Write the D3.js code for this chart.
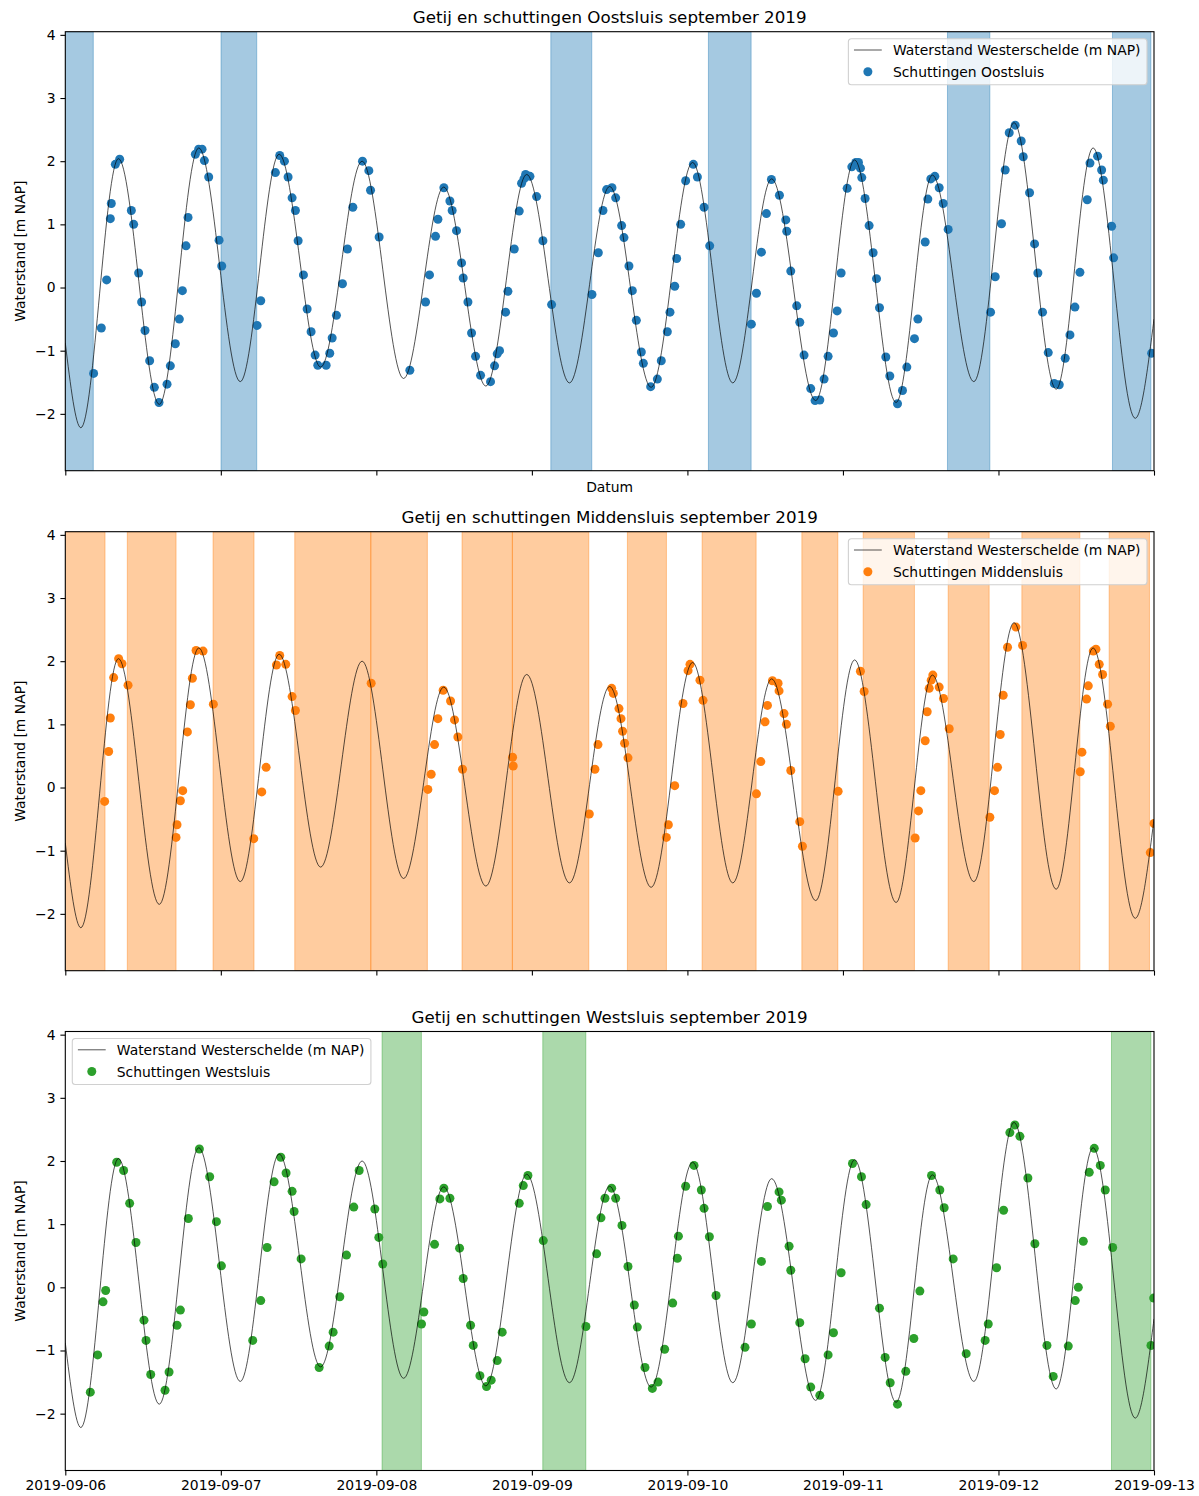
<!DOCTYPE html>
<html>
<head>
<meta charset="utf-8">
<script src="https://cdn.jsdelivr.net/npm/d3@7"></script>
<style>
    body { margin: 0; background: #fff; }
    text { font-family: "DejaVu Sans", sans-serif; fill: #000; }
</style>
</head>
<body>
<svg id="chart" width="1199" height="1496"></svg>
<script>
// tijden in uren sinds 2019-09-06 00:00, waterstand in m NAP
var days = ['2019-09-06','2019-09-07','2019-09-08','2019-09-09','2019-09-10','2019-09-11','2019-09-12','2019-09-13'];
var yTicks = [-2, -1, 0, 1, 2, 3, 4];

// hoog- en laagwaters
var tideExtremes = [[0,-0.88],[2.4,-2.22],[8.2,2.04],[14.5,-1.85],[20.6,2.21],[27.0,-1.49],[33.0,2.11],[39.4,-1.26],
    [45.8,2.0],[52.2,-1.44],[58.4,1.59],[64.9,-1.56],[71.2,1.79],[77.8,-1.51],[84.0,1.60],[90.4,-1.58],[96.8,1.98],
    [103.0,-1.51],[109.0,1.72],[115.8,-1.79],[121.8,2.02],[128.2,-1.82],[133.8,1.78],[140.2,-1.49],[146.4,2.61],
    [152.9,-1.61],[158.6,2.21],[165.1,-2.07],[168,-0.5]];

var oostSpans = [[0,4.32],[24.03,29.54],[74.92,81.24],[99.24,105.83],[136.13,142.67],[161.59,167.52]];
var middenSpans = [[0,6.13],[9.57,17.09],[22.8,29.12],[35.41,47.14],[47.14,55.87],[61.22,68.99],[68.99,80.78],
    [86.74,92.76],[98.27,106.6],[113.66,119.21],[123.12,131.03],[136.24,142.56],[147.61,156.56],[161.08,167.3]];
var westSpans = [[48.88,54.95],[73.68,80.32],[161.44,167.52]];

var oostPoints = [[4.37,-1.36],[5.56,-0.64],[6.38,0.12],[6.95,1.09],[7.10,1.33],[7.72,1.95],[8.39,2.03],[10.19,1.22],
    [10.55,1.0],[11.32,0.23],[11.78,-0.23],[12.3,-0.68],[13.02,-1.16],[13.74,-1.58],[14.46,-1.82],[15.7,-1.53],
    [16.21,-1.24],[16.98,-0.89],[17.6,-0.5],[18.07,-0.05],[18.63,0.66],[18.94,1.11],[20.07,2.11],[20.58,2.19],
    [21.1,2.19],[21.46,2.01],[22.13,1.75],[23.73,0.75],[24.14,0.34],[29.6,-0.6],[30.16,-0.21],[32.42,1.82],
    [33.09,2.09],[33.81,2.0],[34.38,1.75],[35.0,1.42],[35.51,1.22],[35.93,0.74],[36.75,0.2],[37.32,-0.34],
    [37.93,-0.7],[38.55,-1.07],[38.96,-1.23],[40.25,-1.23],[40.81,-1.04],[41.18,-0.8],[41.84,-0.44],[42.77,0.06],
    [43.54,0.61],[44.37,1.27],[45.86,2.0],[46.84,1.85],[47.1,1.54],[48.43,0.8],[53.17,-1.31],[55.59,-0.23],
    [56.2,0.2],[57.13,0.81],[57.5,1.08],[58.42,1.58],[59.35,1.37],[59.7,1.22],[60.37,0.9],[61.15,0.39],[61.4,0.15],
    [62.13,-0.23],[62.69,-0.72],[63.31,-1.09],[64.08,-1.39],[65.62,-1.49],[66.24,-1.24],[66.65,-1.05],[67.01,-1.0],
    [67.94,-0.39],[68.3,-0.06],[69.28,0.61],[70.05,1.21],[70.41,1.65],[70.77,1.72],[71.03,1.79],[71.7,1.76],
    [72.73,1.44],[73.7,0.74],[75.04,-0.27],[81.27,-0.11],[82.25,0.55],[82.97,1.22],[83.53,1.55],[84.36,1.58],
    [84.93,1.42],[85.85,0.98],[86.21,0.79],[86.98,0.34],[87.5,-0.05],[88.12,-0.52],[88.89,-1.02],[89.2,-1.2],
    [90.33,-1.57],[91.36,-1.45],[91.97,-1.16],[92.9,-0.7],[93.31,-0.39],[94.04,0.02],[94.34,0.46],[94.96,1.0],
    [95.73,1.69],[96.92,1.95],[97.54,1.75],[98.57,1.27],[99.44,0.66],[105.87,-0.58],[106.65,-0.09],[107.42,0.56],
    [108.19,1.17],[108.96,1.71],[110.2,1.46],[111.18,1.07],[111.33,0.89],[111.95,0.26],[112.87,-0.29],[113.34,-0.55],
    [114.0,-1.07],[115.03,-1.6],[115.7,-1.79],[116.43,-1.78],[117.09,-1.45],[117.71,-1.09],[118.54,-0.72],
    [119.1,-0.37],[119.72,0.23],[120.65,1.57],[121.37,1.91],[121.98,1.98],[122.4,1.98],[122.7,1.89],[122.91,1.74],
    [123.42,1.41],[124.04,0.98],[124.66,0.55],[125.18,0.14],[125.64,-0.32],[126.62,-1.1],[127.23,-1.4],
    [128.42,-1.84],[129.19,-1.63],[129.86,-1.26],[131.04,-0.81],[131.56,-0.5],[132.69,0.72],[133.1,1.4],
    [133.56,1.72],[134.18,1.76],[134.85,1.58],[135.47,1.33],[136.24,0.92],[142.78,-0.39],[143.5,0.17],[144.47,1.01],
    [145.04,1.86],[145.66,2.45],[146.58,2.57],[147.51,2.32],[147.82,2.07],[148.8,1.5],[149.57,0.69],[150.08,0.23],
    [150.8,-0.39],[151.68,-1.03],[152.61,-1.52],[153.38,-1.54],[154.3,-1.12],[155.03,-0.75],[155.8,-0.31],
    [156.57,0.24],[157.7,1.39],[158.12,1.97],[159.3,2.08],[159.92,1.86],[160.18,1.7],[161.46,0.97],[161.77,0.47],
    [167.64,-1.04]];

var middenPoints = [[6.07,-0.22],[6.69,0.57],[6.95,1.1],[7.46,1.74],[8.23,2.04],[8.75,1.96],[9.68,1.62],[17.09,-0.79],
    [17.24,-0.59],[17.76,-0.21],[18.12,-0.05],[18.84,0.88],[19.3,1.31],[19.61,1.73],[20.18,2.17],[21.26,2.16],
    [22.85,1.32],[29.08,-0.81],[30.32,-0.07],[30.99,0.32],[32.58,1.94],[33.09,2.09],[34.02,1.95],[35.0,1.44],
    [35.51,1.22],[47.2,1.65],[55.95,-0.03],[56.46,0.21],[56.98,0.68],[57.49,1.09],[58.31,1.54],[59.45,1.37],
    [60.06,1.07],[60.58,0.8],[61.3,0.29],[69.02,0.48],[69.12,0.34],[80.86,-0.42],[81.73,0.29],[82.2,0.68],
    [84.31,1.57],[84.57,1.49],[85.44,1.25],[85.75,1.09],[86.0,0.89],[86.31,0.7],[86.83,0.47],[92.75,-0.79],
    [93.06,-0.59],[94.04,0.03],[95.32,1.33],[96.1,1.85],[96.4,1.95],[97.94,1.7],[98.41,1.38],[106.65,-0.1],
    [107.32,0.41],[107.98,1.04],[108.35,1.3],[109.12,1.69],[109.99,1.65],[110.14,1.53],[110.91,1.17],[111.28,1.0],
    [111.95,0.27],[113.34,-0.54],[113.75,-0.93],[119.26,-0.06],[122.7,1.84],[123.27,1.52],[131.14,-0.8],
    [131.66,-0.37],[132.02,-0.05],[132.69,0.74],[133.0,1.2],[133.31,1.57],[133.62,1.70],[133.87,1.78],[134.85,1.59],
    [135.52,1.41],[136.4,0.93],[142.67,-0.47],[143.39,-0.05],[143.85,0.32],[144.27,0.84],[144.73,1.46],[145.4,2.22],
    [146.69,2.54],[147.72,2.25],[156.62,0.25],[156.88,0.56],[157.6,1.4],[157.86,1.61],[158.63,2.16],[159.04,2.19],
    [159.55,1.95],[160.07,1.79],[160.84,1.32],[161.26,0.97],[167.43,-1.03],[168.0,-0.57]];

var westPoints = [[3.86,-1.66],[4.99,-1.07],[5.82,-0.23],[6.23,-0.05],[7.93,1.98],[9.0,1.85],[9.93,1.33],[10.91,0.71],
    [12.14,-0.52],[12.46,-0.84],[13.18,-1.38],[15.39,-1.63],[16.01,-1.34],[17.24,-0.6],[17.76,-0.36],[18.99,1.09],
    [20.69,2.19],[22.28,1.75],[23.32,1.04],[24.09,0.34],[28.92,-0.84],[30.16,-0.21],[31.14,0.63],[32.22,1.67],
    [33.25,2.06],[34.07,1.81],[35.0,1.52],[35.31,1.2],[36.39,0.45],[39.17,-1.27],[40.72,-0.93],[41.33,-0.71],
    [42.36,-0.15],[43.39,0.51],[44.52,1.27],[45.35,1.85],[47.76,1.24],[48.38,0.79],[48.99,0.37],[54.97,-0.58],
    [55.33,-0.39],[56.98,0.68],[57.8,1.4],[58.42,1.57],[59.35,1.41],[60.84,0.62],[61.4,0.14],[62.54,-0.6],
    [62.95,-0.92],[63.98,-1.4],[65.0,-1.57],[65.72,-1.47],[66.65,-1.16],[67.42,-0.71],[70.05,1.33],[70.67,1.61],
    [71.39,1.77],[73.76,0.74],[80.34,-0.62],[81.99,0.53],[82.66,1.1],[83.28,1.41],[84.31,1.57],[84.93,1.41],
    [85.9,0.98],[86.83,0.33],[87.81,-0.28],[88.27,-0.63],[89.45,-1.27],[90.59,-1.6],[91.46,-1.5],[92.49,-0.98],
    [93.73,-0.25],[94.45,0.46],[94.61,0.81],[95.73,1.6],[97.02,1.93],[98.15,1.54],[98.57,1.25],[99.39,0.8],
    [100.42,-0.13],[104.89,-0.95],[105.87,-0.58],[107.42,0.41],[108.35,1.28],[110.14,1.51],[110.5,1.38],
    [111.69,0.65],[111.95,0.27],[113.34,-0.56],[114.16,-1.13],[115.03,-1.58],[116.43,-1.71],[117.71,-1.07],
    [118.54,-0.72],[119.72,0.23],[121.47,1.96],[122.86,1.75],[123.58,1.31],[125.64,-0.33],[126.51,-1.11],
    [127.29,-1.51],[128.42,-1.85],[129.7,-1.33],[130.94,-0.81],[131.87,-0.06],[133.67,1.77],[134.95,1.54],
    [135.62,1.26],[137.01,0.45],[139.02,-1.05],[141.95,-0.84],[142.42,-0.58],[143.71,0.31],[144.79,1.22],
    [145.76,2.45],[146.53,2.57],[147.31,2.39],[148.54,1.73],[149.62,0.69],[151.48,-0.92],[152.45,-1.41],
    [154.77,-0.93],[155.85,-0.21],[156.32,0.0],[157.09,0.73],[158.01,1.82],[158.78,2.2],[159.71,1.93],[160.48,1.54],
    [161.62,0.63],[167.53,-0.92],[167.95,-0.17]];

var panelTitles = ['Getij en schuttingen Oostsluis september 2019',
    'Getij en schuttingen Middensluis september 2019',
    'Getij en schuttingen Westsluis september 2019'];
var pointLabels = ['Schuttingen Oostsluis', 'Schuttingen Middensluis', 'Schuttingen Westsluis'];
var lineLabel = 'Waterstand Westerschelde (m NAP)';

var t0 = Date.UTC(2019, 8, 6);
function toDate(h) { return new Date(t0 + h * 3600000); }

function TidePanel(opts) {
    var _ = {
        svg: null,
        id: 'p0',
        left: 65.3,
        width: 1088.7,
        top: 31.7,
        height: 439,
        yDomain: [-2.9, 4.05],
        color: '#1f77b4',
        dotRadius: 4.5,
        title: '',
        spans: [],
        points: [],
        pointLabel: '',
        legendSide: 'right',
        showDates: false,
        xLabel: null,
        x: null,
        y: null
    };
    this.get = function (key) { return _[key]; };
    this.set = function (key, value) { _[key] = value; };
    for (var k in opts) { _[k] = opts[k]; }
    this.init();
}

TidePanel.prototype.init = function () {
    var self = this;
    var left = self.get('left'), top = self.get('top');
    var x = d3.scaleUtc()
        .domain([toDate(0), toDate(168)])
        .range([left, left + self.get('width')]);
    var y = d3.scaleLinear()
        .domain(self.get('yDomain'))
        .range([top + self.get('height'), top]);
    self.set('x', x);
    self.set('y', y);

    var g = self.get('svg').append('g');
    self.set('g', g);
    g.append('clipPath').attr('id', 'clip-' + self.get('id'))
        .append('rect')
        .attr('x', left).attr('y', top)
        .attr('width', self.get('width')).attr('height', self.get('height'));
    var plot = g.append('g').attr('clip-path', 'url(#clip-' + self.get('id') + ')');
    self.set('plot', plot);

    this.drawSpans();
    this.drawPoints();
    this.drawTide();
    this.drawAxes();
    this.drawLegend();
};

TidePanel.prototype.drawSpans = function () {
    var x = this.get('x'), top = this.get('top'), h = this.get('height'), color = this.get('color');
    this.get('plot').append('g')
        .selectAll('rect')
        .data(this.get('spans'))
        .enter()
        .append('rect')
        .attr('x', function (d) { return x(toDate(d[0])); })
        .attr('y', top)
        .attr('width', function (d) { return x(toDate(d[1])) - x(toDate(d[0])); })
        .attr('height', h)
        .attr('fill', color)
        .attr('fill-opacity', 0.4)
        .attr('stroke', color)
        .attr('stroke-opacity', 0.4)
        .attr('stroke-width', 1);
};

TidePanel.prototype.drawPoints = function () {
    var x = this.get('x'), y = this.get('y');
    this.get('plot').append('g')
        .selectAll('circle')
        .data(this.get('points'))
        .enter()
        .append('circle')
        .attr('cx', function (d) { return x(toDate(d[0])); })
        .attr('cy', function (d) { return y(d[1]); })
        .attr('r', this.get('dotRadius'))
        .attr('fill', this.get('color'));
};

TidePanel.prototype.drawTide = function () {
    var x = this.get('x'), y = this.get('y');
    var line = d3.line()
        .x(function (d) { return x(toDate(d[0])); })
        .y(function (d) { return y(d[1]); })
        .curve(d3.curveMonotoneX);
    this.get('plot').append('path')
        .datum(tideExtremes)
        .attr('d', line)
        .attr('fill', 'none')
        .attr('stroke', '#000')
        .attr('stroke-opacity', 0.85)
        .attr('stroke-width', 0.8);
};

TidePanel.prototype.drawAxes = function () {
    var self = this;
    var g = self.get('g'), x = self.get('x'), y = self.get('y');
    var left = self.get('left'), top = self.get('top'), w = self.get('width'), h = self.get('height');

    var yAxis = d3.axisLeft(y)
        .tickValues(yTicks)
        .tickSize(4.9).tickPadding(4.9)
        .tickFormat(function (d) { return d < 0 ? '\u2212' + Math.abs(d) : d; });
    var ya = g.append('g').attr('transform', 'translate(' + left + ',0)').call(yAxis);

    var dates = days.map(function (s) { return new Date(s + 'T00:00:00Z'); });
    var xAxis = d3.axisBottom(x)
        .tickValues(dates)
        .tickSize(4.9).tickPadding(4.9)
        .tickFormat(self.get('showDates') ? d3.utcFormat('%Y-%m-%d') : function () { return ''; });
    var xa = g.append('g').attr('transform', 'translate(0,' + (top + h) + ')').call(xAxis);

    [ya, xa].forEach(function (a) {
        a.select('.domain').remove();
        a.selectAll('line').attr('stroke', '#000').attr('stroke-width', 1.1);
        a.selectAll('text').attr('font-size', 13.9).attr('font-family', '"DejaVu Sans", sans-serif').attr('fill', '#000');
    });

    g.append('rect')
        .attr('x', left).attr('y', top).attr('width', w).attr('height', h)
        .attr('fill', 'none').attr('stroke', '#000').attr('stroke-width', 1.1);

    g.append('text')
        .attr('x', left + w / 2).attr('y', top - 8.5)
        .attr('text-anchor', 'middle')
        .attr('font-size', 16.7)
        .text(self.get('title'));

    g.append('text')
        .attr('transform', 'translate(20,' + (top + h / 2) + ') rotate(-90)')
        .attr('text-anchor', 'middle')
        .attr('dy', '0.35em')
        .attr('font-size', 13.9)
        .text('Waterstand [m NAP]');

    if (self.get('xLabel')) {
        g.append('text')
            .attr('x', left + w / 2).attr('y', top + h + 21)
            .attr('text-anchor', 'middle')
            .attr('font-size', 13.9)
            .text(self.get('xLabel'));
    }
};

TidePanel.prototype.drawLegend = function () {
    var self = this;
    var left = self.get('left'), top = self.get('top'), w = self.get('width');
    var legend = self.get('g').append('g');
    var box = legend.append('rect')
        .attr('fill', '#fff').attr('fill-opacity', 0.8)
        .attr('stroke', '#d0d0d0').attr('stroke-width', 1.1)
        .attr('rx', 3).attr('ry', 3);

    var rows = [lineLabel, self.get('pointLabel')];
    var labels = legend.selectAll('text.lbl')
        .data(rows)
        .enter()
        .append('text')
        .attr('class', 'lbl')
        .attr('x', 44.5)
        .attr('y', function (d, i) { return 11.3 + i * 21.7 + 5; })
        .attr('font-size', 13.9)
        .text(function (d) { return d; });

    var tw = 0;
    labels.each(function () { tw = Math.max(tw, this.getComputedTextLength()); });
    var bw = 44.5 + tw + 6.5, bh = 46;
    box.attr('width', bw).attr('height', bh);

    legend.append('line')
        .attr('x1', 5.6).attr('x2', 33.4)
        .attr('y1', 11.3).attr('y2', 11.3)
        .attr('stroke', '#000').attr('stroke-opacity', 0.85).attr('stroke-width', 0.8);
    legend.append('circle')
        .attr('cx', 19.5).attr('cy', 33)
        .attr('r', self.get('dotRadius'))
        .attr('fill', self.get('color'));

    var lx = self.get('legendSide') === 'right' ? left + w - 7 - bw : left + 7;
    legend.attr('transform', 'translate(' + lx + ',' + (top + 7) + ')');
};

var svg = d3.select('#chart');
var panelTops = [31.7, 531.7, 1031.5];

new TidePanel({svg: svg, id: 'oost', top: panelTops[0], color: '#1f77b4', title: panelTitles[0],
    spans: oostSpans, points: oostPoints, pointLabel: pointLabels[0], legendSide: 'right', xLabel: 'Datum'});
new TidePanel({svg: svg, id: 'midden', top: panelTops[1], color: '#ff7f0e', title: panelTitles[1],
    spans: middenSpans, points: middenPoints, pointLabel: pointLabels[1], legendSide: 'right'});
new TidePanel({svg: svg, id: 'west', top: panelTops[2], color: '#2ca02c', title: panelTitles[2],
    spans: westSpans, points: westPoints, pointLabel: pointLabels[2], legendSide: 'left', showDates: true});
</script>
</body>
</html>
